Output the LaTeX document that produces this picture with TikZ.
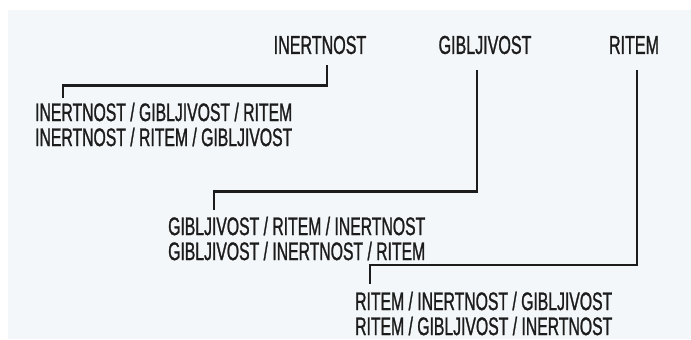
\documentclass[tikz,border=0pt]{standalone}
\usepackage{fontspec}
\newfontfamily\hand[FakeStretch=0.62, FakeBold=1]{Liberation Sans}
\definecolor{paper}{HTML}{F3F7F9}
\definecolor{ink}{HTML}{1C1C1C}
\begin{document}
\begin{tikzpicture}[x=1bp, y=-1bp,
        head/.style={inner sep=0pt, text=ink, font=\hand\fontsize{26}{28}\selectfont},
        perm/.style={inner sep=0pt, anchor=west, text=ink, font=\hand\fontsize{25.5}{27}\selectfont},
        branch/.style={draw=ink, line width=2.6bp}]
        \useasboundingbox (0,0) rectangle (691,339);
        \fill[white] (0,0) rectangle (691,339);
        \fill[paper] (8,10) rectangle (691,339);

        % the three headings
        \node[head] (inert) at (320,45) {INERTNOST};
        \node[head] (gib) at (485,45) {GIBLJIVOST};
        \node[head] (rit) at (634,45) {RITEM};

        % the orders under each heading
        \node[perm] (igr) at (35,112) {INERTNOST / GIBLJIVOST / RITEM};
        \node[perm] (irg) at (35,137) {INERTNOST / RITEM / GIBLJIVOST};

        \node[perm] (gri) at (168,226) {GIBLJIVOST / RITEM / INERTNOST};
        \node[perm] (gir) at (168,251) {GIBLJIVOST / INERTNOST / RITEM};

        \node[perm] (rig) at (355,301) {RITEM / INERTNOST / GIBLJIVOST};
        \node[perm] (rgi) at (355,326) {RITEM / GIBLJIVOST / INERTNOST};

        \draw[branch]
            ([xshift=7bp, yshift=-11bp]inert.south) -- ++(0,20)
            -| ([xshift=28bp, yshift=4bp]igr.north west);
        \draw[branch]
            ([xshift=-8bp, yshift=-16bp]gib.south) -- ++(0,121)
            -| ([xshift=46bp, yshift=6bp]gri.north west);
        \draw[branch]
            ([xshift=3bp, yshift=-16bp]rit.south) -- ++(0,195)
            -| ([xshift=15bp, yshift=7bp]rig.north west);
    \end{tikzpicture}
\end{document}
